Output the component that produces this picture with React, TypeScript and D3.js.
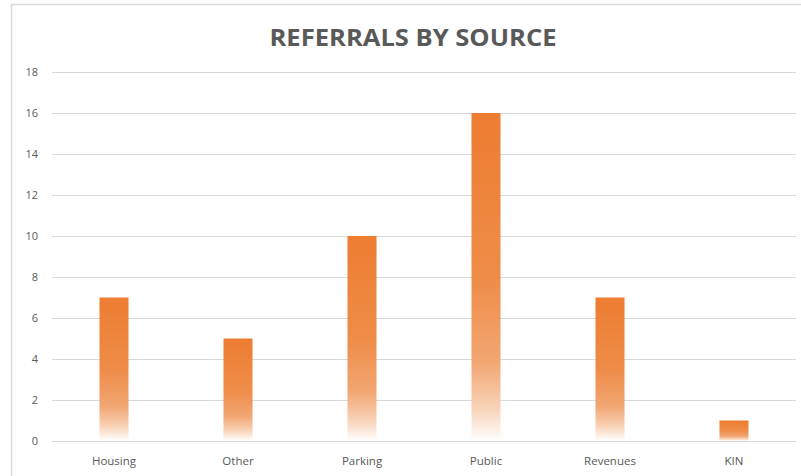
import React from "react";
import * as d3 from "d3";

const categories = ["Housing", "Other", "Parking", "Public", "Revenues", "KIN"];
const values = [7, 5, 10, 16, 7, 1];
const yTicks = [0, 2, 4, 6, 8, 10, 12, 14, 16, 18];
const title = "REFERRALS BY SOURCE";

const W = 801;
const H = 476;

export default function App() {
  const x = d3.scaleBand<string>().domain(categories).range([52, 796]).paddingInner(0.766).paddingOuter(0.383);
  const y = d3.scaleLinear().domain([0, 18]).range([441, 72]);
  const font = "'Open Sans', 'DejaVu Sans', sans-serif";
  return (
    <svg width={W} height={H} style={{ position: "absolute", left: 0, top: 0, background: "#fff" }}>
      <defs>
        <linearGradient id="barGrad" x1="0" y1="0" x2="0" y2="1">
          <stop offset="0%" stopColor="#ED7D31" />
          <stop offset="50%" stopColor="#EF8C48" />
          <stop offset="76%" stopColor="#F2A672" />
          <stop offset="90%" stopColor="#F8D3B8" />
          <stop offset="100%" stopColor="#FFFFFF" />
        </linearGradient>
      </defs>
      <rect x={0} y={0} width={W} height={H} fill="#fff" />
      <path d={`M11.5,${H} L11.5,4.5 L${W},4.5`} fill="none" stroke="#d9d9d9" strokeWidth={1.5} />
      <text x={413} y={46} textAnchor="middle" fontFamily={font} fontWeight={700} fontSize={23}
        fill="#595959" textLength={287} lengthAdjust="spacingAndGlyphs">{title}</text>
      {yTicks.map((t) => (
        <g key={t}>
          <line x1={52} x2={796} y1={Math.round(y(t)) + 0.5} y2={Math.round(y(t)) + 0.5} stroke="#d9d9d9" strokeWidth={1} />
          <text x={38} y={y(t) + 4} textAnchor="end" fontFamily={font} fontSize={11} fill="#595959">{t}</text>
        </g>
      ))}
      {categories.map((c, i) => (
        <rect key={c} x={x(c)} y={y(values[i])} width={x.bandwidth()} height={y(0) - y(values[i])} fill="url(#barGrad)" />
      ))}
      {categories.map((c) => (
        <text key={c} x={(x(c) ?? 0) + x.bandwidth() / 2} y={465} textAnchor="middle" fontFamily={font} fontSize={11.5} fill="#595959">{c}</text>
      ))}
    </svg>
  );
}
